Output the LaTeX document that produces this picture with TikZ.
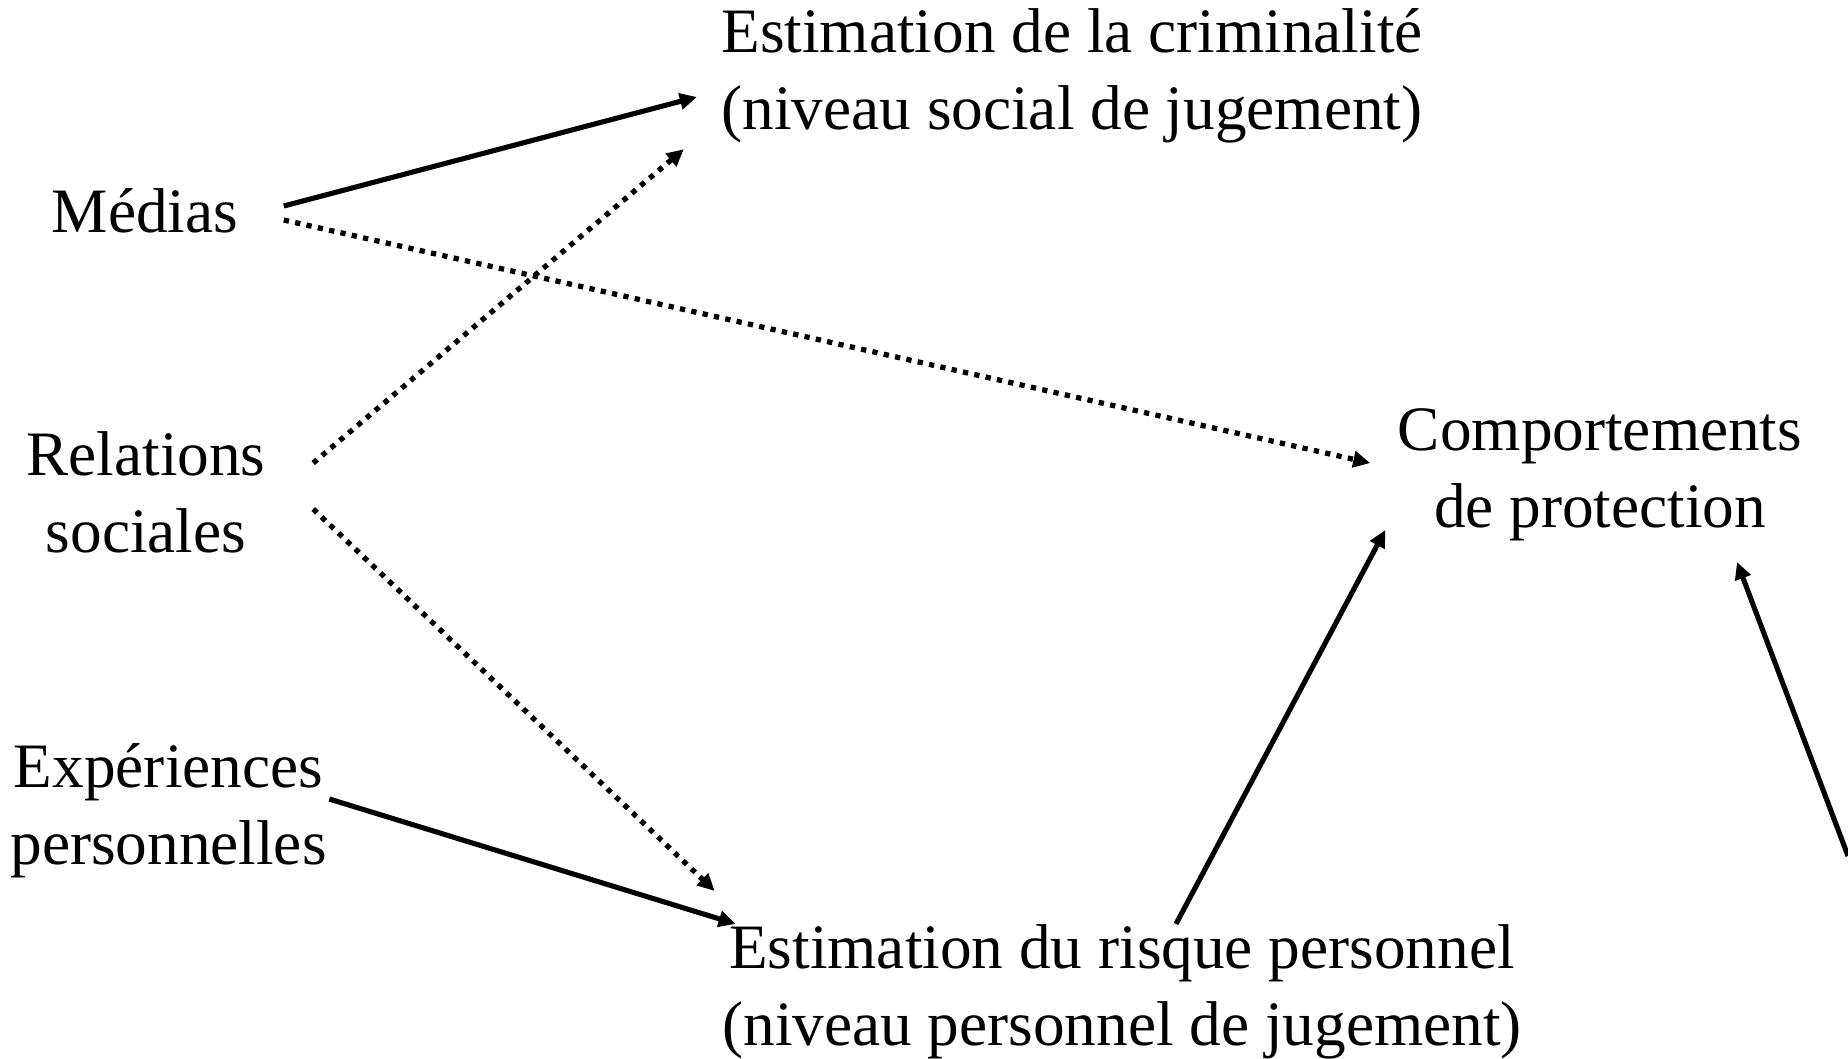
\documentclass[tikz,border=0pt]{standalone}
\usepackage{fontspec}
\setmainfont{Liberation Serif}
\usepackage{tikz}
\usetikzlibrary{arrows.meta}

\tikzset{
  labeltext/.style={inner sep=0pt, align=center, font=\fontsize{18}{22}\selectfont},
  solidlink/.style={line width=1.45pt, -{Triangle[length=0.17cm,width=0.16cm]}},
  dottedlink/.style={line width=1.5pt, dash pattern=on 1.5pt off 1.8pt, -{Triangle[length=0.17cm,width=0.16cm]}},
}

\begin{document}
\begin{tikzpicture}
			% Fix page size
			\useasboundingbox (0,0) rectangle (18.48,-10.58);
			
			% Sources of information
			\node[labeltext] (medias) at (1.45,-2.11) {Médias};
			\node[labeltext] (relations) at (1.46,-4.92) {Relations\\sociales};
			\node[labeltext] (experiences) at (1.685,-8.11) {Expériences\\personnelles};
			
			% Judgement levels and behaviour
			\node[labeltext] (criminalite) at (10.72,-0.76) {Estimation de la criminalité\\(niveau social de jugement)};
			\node[labeltext] (risque) at (11.22,-9.92) {Estimation du risque personnel\\(niveau personnel de jugement)};
			\node[labeltext] (comportements) at (16.0,-4.75) {Comportements\\de protection};
			
			% Free end on the right edge
			\coordinate (horscadre) at (18.48,-8.56);
			
			% Solid links
			\draw[solidlink] ([shift={(0.45,0.05)}]medias.east) -- ([shift={(-0.24,-0.21)}]criminalite.west);
			\draw[solidlink] ([shift={(0.02,0.12)}]experiences.east) -- ([shift={(0.14,0)}]risque.north west);
			\draw[solidlink] ([shift={(0.54,0)}]risque.north) -- ([shift={(-0.12,0.12)}]comportements.south west);
			\draw[solidlink] (horscadre) -- ([shift={(1.37,-0.2)}]comportements.south);
			
			% Dotted links
			\draw[dottedlink] ([shift={(0.45,-0.09)}]medias.east) -- ([shift={(-0.27,0.12)}]comportements.west);
			\draw[dottedlink] ([shift={(0.47,0.29)}]relations.east) -- ([shift={(-0.37,-0.05)}]criminalite.south west);
			\draw[dottedlink] ([shift={(0.47,-0.17)}]relations.east) -- ([shift={(-0.07,0.33)}]risque.north west);
			
		\end{tikzpicture}
\end{document}
